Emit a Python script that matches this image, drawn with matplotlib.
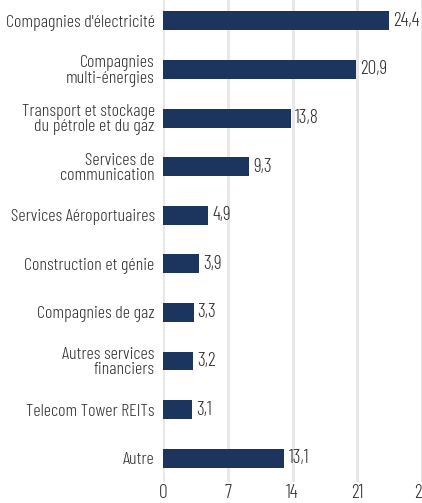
import matplotlib
matplotlib.use("Agg")
import matplotlib.pyplot as plt

categories = [
    "Compagnies d'électricité",
    "Compagnies\nmulti-énergies",
    "Transport et stockage\ndu pétrole et du gaz",
    "Services de\ncommunication",
    "Services Aéroportuaires",
    "Construction et génie",
    "Compagnies de gaz",
    "Autres services\nfinanciers",
    "Telecom Tower REITs",
    "Autre",
]
values = [24.4, 20.9, 13.8, 9.3, 4.9, 3.9, 3.3, 3.2, 3.1, 13.1]
xticks = [0, 7, 14, 21, 28]

plt.rcParams['font.family'] = ['Barlow Condensed', 'DejaVu Sans']
plt.rcParams['font.weight'] = 300

fig = plt.figure(figsize=(4.22, 5.03), dpi=100)
ax = fig.add_axes([163/422, 21/503, 1 - 163/422, 482/503])

bar_color = "#1c355e"
text_color = "#333333"
ypos = list(range(len(categories)))
ax.barh(ypos, values, height=0.39, color=bar_color, zorder=3)
for y, v in zip(ypos, values):
    ax.text(v + 0.45, y, f"{v:.1f}".replace(".", ","), va="center", ha="left",
            fontsize=14, color=text_color, weight=300)

ax.set_ylim(9.49, -0.43)
ax.set_xlim(0, 28)
ax.set_yticks(ypos)
ax.set_yticklabels(categories, fontsize=13, color=text_color, linespacing=0.95, weight=300)
ax.set_xticks(xticks)
ax.set_xticklabels([str(t) for t in xticks], fontsize=14, color=text_color, weight=300)
ax.tick_params(axis="both", length=0)
ax.tick_params(axis="y", pad=6)
ax.tick_params(axis="x", pad=1.5)
ax.grid(axis="x", color="#e8e8e8", linewidth=2.2, zorder=0)
for s in ax.spines.values():
    s.set_visible(False)

fig.savefig("out.png", dpi=100)
